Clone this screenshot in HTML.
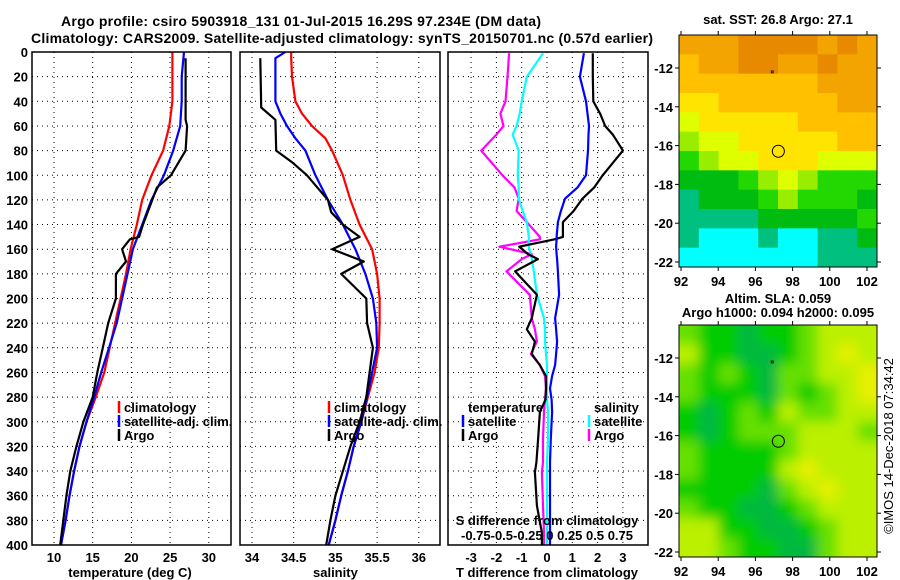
<!DOCTYPE html>
<html><head><meta charset="utf-8"><style>
body{margin:0;background:#fff}
svg{display:block;font-family:"Liberation Sans",sans-serif;font-weight:bold}
</style></head><body>
<svg id="fig" width="900" height="580" viewBox="0 0 900 580">
<defs>
<clipPath id="c1"><rect x="679" y="35" width="198" height="232"/></clipPath>
<clipPath id="c2"><rect x="679" y="325" width="198" height="232"/></clipPath>
<filter id="bl" x="-5%" y="-5%" width="110%" height="110%"><feGaussianBlur stdDeviation="6"/></filter>
</defs>
<text x="301" y="26" font-size="14" text-anchor="middle" textLength="480">Argo profile: csiro 5903918_131 01-Jul-2015 16.29S 97.234E (DM data)</text>
<text x="342" y="43" font-size="14" text-anchor="middle" textLength="622">Climatology: CARS2009. Satellite-adjusted climatology: synTS_20150701.nc (0.57d earlier)</text>
<g id="g"></g>
</svg>
<script>
// ---- data ----
const depthT = [0,20,40,60,80,100,120,140,160,180,200,220,240,260,280,300,320,340,360,380,400];
const tempClim = [25.3,25.3,25.3,24.9,24.1,22.6,21.4,20.7,19.9,19.3,18.6,17.9,17.2,16.5,15.4,14.2,13.3,12.6,12.0,11.5,10.9];
const tempSat = [26.8,26.5,26.5,26.3,25.4,24.2,22.6,21.4,20.2,19.5,18.8,18.1,17.1,16.1,15.2,14.2,13.3,12.6,12.0,11.5,10.9];
const depthArgoT = [5,55,60,80,100,110,140,150,152,160,170,180,200,220,240,260,280,300,320,340,360,380,400];
const tempArgo = [27.0,27.0,27.2,27.0,25.1,23.3,21.5,21.0,19.8,18.8,19.3,18.0,18.0,17.0,16.3,15.6,15.0,13.8,12.9,12.1,11.6,11.2,10.8];
const depthS = [0,5,20,40,50,60,70,80,100,120,140,160,180,200,220,240,260,280,300,320,340,360,380,400];
const salClim = [34.47,34.47,34.48,34.52,34.60,34.72,34.88,34.96,35.09,35.18,35.29,35.44,35.50,35.53,35.53,35.52,35.47,35.39,35.31,35.22,35.15,35.07,35.00,34.92];
const salSat = [34.40,34.28,34.28,34.28,34.34,34.42,34.52,34.64,34.76,34.91,35.09,35.24,35.36,35.45,35.49,35.50,35.44,35.38,35.31,35.22,35.15,35.07,35.00,34.92];
const depthArgoS = [5,45,55,80,90,100,120,130,140,150,160,170,180,200,220,240,260,280,300,320,340,360,380,400];
const salArgo = [34.10,34.11,34.28,34.29,34.49,34.66,34.91,34.95,35.09,35.29,34.96,35.34,35.07,35.37,35.38,35.45,35.41,35.37,35.29,35.18,35.09,35.00,34.94,34.89];
const depthD = [1,20,40,50,60,67,80,100,110,119,129,138,150,152,158,164,168,178,197,216,225,235,245,254,263,273,282,292,314,333,341,368,390,400];
const tdiffSat = [1.46,1.30,1.54,1.60,1.66,1.64,1.62,1.54,1.20,0.71,0.55,0.43,0.38,0.38,0.36,0.38,0.40,0.43,0.48,0.32,0.36,0.40,0.36,0.32,0.20,0.12,0.18,0.20,0.15,0.12,0.12,0.12,0.12,0.12];
const tdiffArgo = [1.81,1.81,1.83,2.10,2.30,2.60,3.00,2.20,1.86,1.40,1.05,0.63,0.63,0.30,-1.10,-0.75,-0.36,-1.26,-0.40,-0.60,-0.80,-0.48,-0.60,-0.28,-0.04,-0.04,-0.06,-0.28,-0.35,-0.42,-0.48,-0.40,-0.20,-0.20];
const sdiffSat = [-0.04,-0.20,-0.25,-0.27,-0.30,-0.34,-0.28,-0.29,-0.28,-0.28,-0.24,-0.20,-0.18,-0.18,-0.18,-0.16,-0.15,-0.13,-0.10,-0.03,-0.02,-0.02,-0.01,0.00,0.00,0.00,0.00,0.01,0.01,0.00,0.00,0.00,0.00,0.00];
const sdiffArgo = [-0.375,-0.39,-0.41,-0.46,-0.43,-0.50,-0.65,-0.44,-0.32,-0.28,-0.30,-0.20,-0.07,-0.07,-0.47,-0.15,-0.25,-0.40,-0.17,-0.15,-0.12,-0.10,-0.16,-0.07,-0.02,-0.01,-0.02,-0.03,-0.04,-0.04,-0.05,-0.04,-0.03,-0.03];
const depthTicks = [0,20,40,60,80,100,120,140,160,180,200,220,240,260,280,300,320,340,360,380,400];
const tTicks = [10,15,20,25,30];
const sTicks = [34,34.5,35,35.5,36];
const dTicks = [-3,-2,-1,0,1,2,3];
const lonTicks = [92,94,96,98,100,102];
const latTicks = [-12,-14,-16,-18,-20,-22];
const sstColors = ["#e88a00","#f4a400","#ffc000","#ffe400","#ddff00","#99ee00","#22d800","#00bb10","#00c080","#00ffff"];
const sstGrid = [
[1,1,1,0,0,0,0,1,0,1],[2,1,1,0,0,1,1,0,1,1],[2,2,2,2,2,2,2,1,1,1],[3,3,2,2,2,2,2,2,1,1],
[4,3,3,3,3,3,2,2,2,2],[5,4,4,3,3,3,3,3,2,2],[6,5,4,4,3,3,3,4,4,4],[7,7,7,6,5,4,5,6,6,6],
[8,7,7,7,6,5,6,6,6,7],[8,8,8,8,7,7,7,7,7,6],[8,9,9,9,8,9,9,8,8,7],[9,9,9,9,9,9,9,8,8,8]];
const slaColors = ["#00b840","#00cc00","#66e000","#bbf000","#e6f000"];
const slaGrid = [
[2,1,1,0,1,1,2,3,3,3],[3,1,1,0,0,1,2,3,4,3],[2,1,2,1,0,2,2,3,3,4],[2,1,1,1,0,2,1,2,3,4],
[1,0,1,2,1,3,2,2,3,3],[1,0,1,2,2,2,3,3,3,2],[2,1,1,1,1,2,3,3,3,3],[2,1,1,1,1,3,4,3,3,3],
[1,1,1,1,0,2,3,4,3,3],[2,1,1,0,0,1,2,3,3,3],[3,3,1,1,0,0,1,2,3,3],[3,3,2,1,1,0,0,2,3,3]];
const argoLon = 97.234, argoLat = -16.29;

// ---- scales ----
const Y0=52, Y1=545;
const yD = d => Y0 + d*(Y1-Y0)/400;
const xT = t => 54 + (t-10)*7.74;
const xS = s => 252 + (s-34)*83.4;
const xTD = t => 547 + t*25.3;
const xSD = s => 547 + s*101.2;
const xLon = l => 681 + (l-92)*18.6;
const yLat1 = l => 68 + (-12-l)*19.4;
const yLat2 = l => 358 + (-12-l)*19.4;

const NS="http://www.w3.org/2000/svg";
const G=document.getElementById('g');
function mk(tag,attrs,parent){const e=document.createElementNS(NS,tag);for(const k in attrs)e.setAttribute(k,attrs[k]);(parent||G).appendChild(e);return e;}
function txt(x,y,s,size,anchor,parent){const e=mk('text',{x:x,y:y,'font-size':size,'text-anchor':anchor||'middle'},parent);e.textContent=s;return e;}
function poly(xs,ys,color,w){return mk('polyline',{points:xs.map((x,i)=>x.toFixed(1)+','+ys[i].toFixed(1)).join(' '),fill:'none',stroke:color,'stroke-width':w,'stroke-linejoin':'round'});}
const FS=13;

const panels=[[32,231],[240,440],[448,648]];
panels.forEach((p,i)=>{
  depthTicks.forEach(d=>{ if(d>0&&d<400){
    const l=mk('line',{x1:p[0],x2:p[1],y1:yD(d),y2:yD(d),stroke:'#000','stroke-width':1,'stroke-dasharray':'1,4'});
    
    
  }});
});
tTicks.forEach(t=>{const l=mk('line',{x1:xT(t),x2:xT(t),y1:Y0,y2:Y1,stroke:'#000','stroke-dasharray':'1,4'});
  
  const e=txt(xT(t),562,String(t),FS);});
sTicks.forEach(s=>{const l=mk('line',{x1:xS(s),x2:xS(s),y1:Y0,y2:Y1,stroke:'#000','stroke-dasharray':'1,4'});
  
  const e=txt(xS(s),562,String(s),FS);});
dTicks.forEach(t=>{const l=mk('line',{x1:xTD(t),x2:xTD(t),y1:Y0,y2:Y1,stroke:'#000','stroke-dasharray':'1,4'});
  
  const e=txt(xTD(t),562,String(t),FS);});
depthTicks.forEach(d=>{const e=txt(28,yD(d)+5,String(d),FS,'end');
  });

let s;
s=poly(tempClim.map(xT),depthT.map(yD),'#ff0000',2.2);
s=poly(tempSat.map(xT),depthT.map(yD),'#0000ff',2.2);
s=poly(tempArgo.map(xT),depthArgoT.map(yD),'#000',2.2);
s=poly(salClim.map(xS),depthS.map(yD),'#ff0000',2.2);
s=poly(salSat.map(xS),depthS.map(yD),'#0000ff',2.2);
s=poly(salArgo.map(xS),depthArgoS.map(yD),'#000',2.2);
s=poly(sdiffArgo.map(xSD),depthD.map(yD),'#ff00ff',2.2);
s=poly(sdiffSat.map(xSD),depthD.map(yD),'#00ffff',2.2);
s=poly(tdiffArgo.map(xTD),depthD.map(yD),'#000',2.2);
s=poly(tdiffSat.map(xTD),depthD.map(yD),'#0000ff',2.2);

panels.forEach((p,i)=>{const r=mk('rect',{x:p[0],y:Y0,width:p[1]-p[0],height:Y1-Y0,fill:'none',stroke:'#000','stroke-width':1.5});
  });

function legendEntry(x,y,color,label,name){const g=mk('g',{});
  
  mk('line',{x1:x,x2:x,y1:y-11,y2:y+1,stroke:color,'stroke-width':2.5},g);
  txt(x+5,y,label,FS,'start',g);}
legendEntry(119,412,'#ff0000','climatology','legend-temp-climatology');
legendEntry(119,426,'#0000ff','satellite-adj. clim.','legend-temp-satellite');
legendEntry(119,440,'#000','Argo','legend-temp-argo');
legendEntry(329,412,'#ff0000','climatology','legend-sal-climatology');
legendEntry(329,426,'#0000ff','satellite-adj. clim.','legend-sal-satellite');
legendEntry(329,440,'#000','Argo','legend-sal-argo');
let e=txt(468,412,'temperature',FS,'start');
e=txt(594,412,'salinity',FS,'start');
legendEntry(463,426,'#0000ff','satellite','legend-tdiff-satellite');
legendEntry(463,440,'#000','Argo','legend-tdiff-argo');
legendEntry(589,426,'#00ffff','satellite','legend-sdiff-satellite');
legendEntry(589,440,'#ff00ff','Argo','legend-sdiff-argo');
e=txt(547,525,'S difference from climatology',FS);
e=txt(547,540,'-0.75-0.5-0.25 0  0.25 0.5 0.75',FS);
e=txt(130,577,'temperature (deg C)',FS);
e=txt(xS(35),577,'salinity',FS);
e=txt(547,577,'T difference from climatology',FS);

function drawMap(grid,colors,top,clip,blur,yLat,name){
  const g=mk('g',{'clip-path':'url(#'+clip+')'});
  
  const inner=mk('g',blur?{filter:'url(#bl)'}:{},g);
  const cw=198/grid[0].length, ch=232/grid.length;
  grid.forEach((row,r)=>row.forEach((v,c)=>{
    let x=679+c*cw,y=top+r*ch,w=cw+0.5,h=ch+0.5;
    if(blur){ if(c===0){x-=12;w+=12;} if(c===row.length-1)w+=12; if(r===0){y-=12;h+=12;} if(r===grid.length-1)h+=12; }
    const cell=mk('rect',{x:x,y:y,width:w,height:h,fill:colors[v]},inner);
    
    
  }));
  mk('rect',{x:679,y:top,width:198,height:232,fill:'none',stroke:'#000','stroke-width':1});
  lonTicks.forEach(l=>{mk('line',{x1:xLon(l),x2:xLon(l),y1:top+232,y2:top+236,stroke:'#000'});mk('line',{x1:xLon(l),x2:xLon(l),y1:top,y2:top-4,stroke:'#000'});
    const t=txt(xLon(l),top+251,String(l),FS);});
  latTicks.forEach(l=>{mk('line',{x1:675,x2:679,y1:yLat(l),y2:yLat(l),stroke:'#000'});mk('line',{x1:877,x2:881,y1:yLat(l),y2:yLat(l),stroke:'#000'});
    const t=txt(673,yLat(l)+5,String(l),FS,'end');});
  const c=mk('circle',{cx:xLon(argoLon),cy:yLat(argoLat),r:6,fill:'none',stroke:'#000','stroke-width':1});
  
  mk('rect',{x:xLon(96.85),y:yLat(-12.15),width:2,height:2,fill:'none',stroke:'#000','stroke-width':0.8});
}
drawMap(sstGrid,sstColors,35,'c1',false,yLat1,'sst-map');
drawMap(slaGrid,slaColors,325,'c2',true,yLat2,'sla-map');
e=txt(778,24,'sat. SST: 26.8 Argo: 27.1',FS);
e=txt(778,303,'Altim. SLA: 0.059',FS);
e=txt(778,317,'Argo h1000: 0.094 h2000: 0.095',FS);
e=txt(0,0,'©IMOS 14-Dec-2018 07:34:42',FS);e.setAttribute('transform','translate(893,446) rotate(-90)');
e.setAttribute('font-weight','normal');
</script>
</body></html>
